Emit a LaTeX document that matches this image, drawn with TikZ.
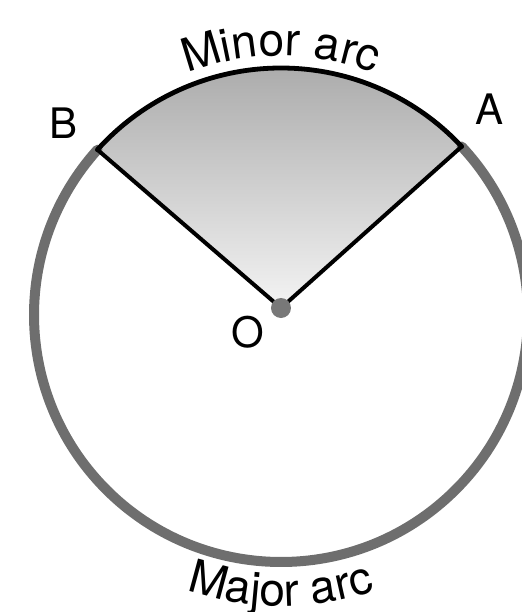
\documentclass[tikz,border=0pt]{standalone}
\usepackage{fontspec}
\setmainfont{TeX Gyre Heros}
\usetikzlibrary{decorations.text}

\begin{document}
\begin{tikzpicture}[x=0.5pt, y=0.5pt, line join=round, line cap=round, font=\fontsize{21}{24}\selectfont,
  ringarc/.style={line width=5pt, black!57},
  blackarc/.style={line width=2.4pt, black},
  spoke/.style={line width=2pt, black},
  arclabel/.style={decorate, decoration={text along path, text align=center, text={|\fontsize{23}{26}\selectfont|#1}}}]

	\useasboundingbox (-281,-297) rectangle (240,315);

	% Các điểm
	\coordinate (C) at (0,0);       % tâm đường tròn
	\coordinate (O) at (0,7);       % điểm O
	\coordinate (A) at (43:247);
	\coordinate (B) at (138:247);

	% Hình quạt tô bóng
	\shade[top color=gray!68, bottom color=gray!9] (O) -- (A) arc (43:138:247) -- cycle;

	% Cung lớn và cung nhỏ
	\draw[ringarc] (A) arc (43:-222:247);
	\draw[blackarc] (A) arc (43:138:247);

	% Hai bán kính
	\draw[spoke] (A) -- (O) -- (B);
	\fill[black!53] (O) circle (10);

	% Nhãn các điểm
	\node (lA) at (209,206) {A};
	\node (lB) at (-217,192) {B};
	\node (lO) at (-33,-17) {O};

	% Nhãn hai cung
	\path[arclabel={Minor arc}] (125:259) arc (125:55:259);
	\path[arclabel={Major arc}] (235:291) arc (235:305:291);

\end{tikzpicture}
\end{document}
